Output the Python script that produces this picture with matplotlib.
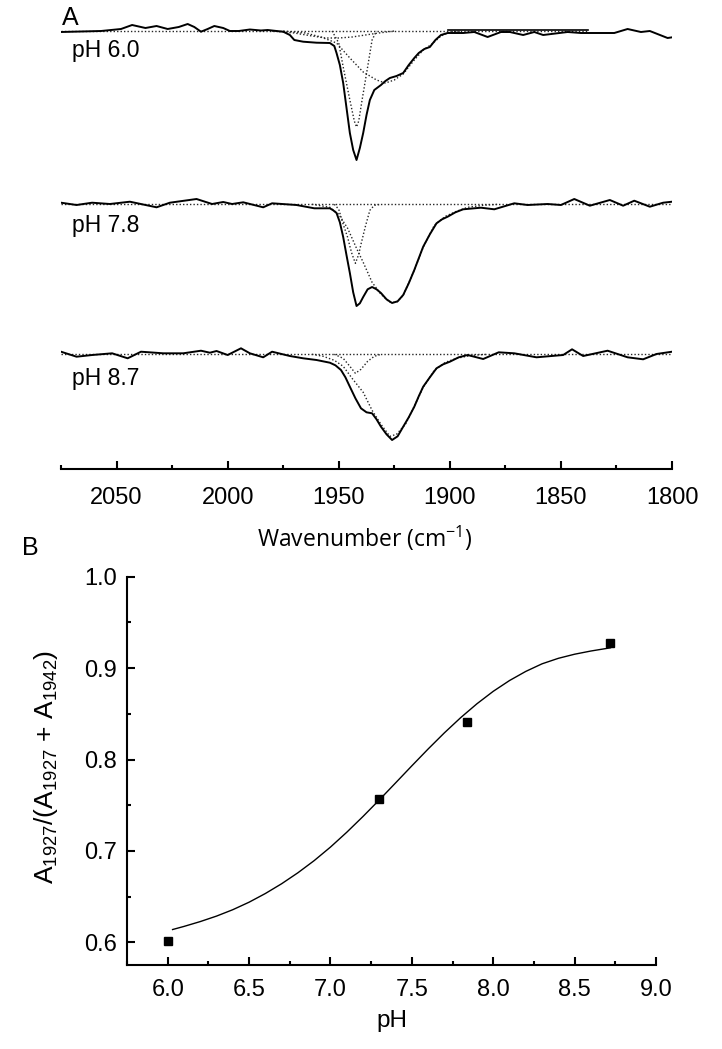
import numpy as np
import matplotlib
matplotlib.use('Agg')
import matplotlib.pyplot as plt
from matplotlib.ticker import MultipleLocator
from matplotlib import font_manager

plt.rcParams['font.family'] = ['Liberation Sans', 'DejaVu Sans']
plt.rcParams['mathtext.default'] = 'regular'

names = {f.name for f in font_manager.fontManager.ttflist}
narrow = 'Liberation Sans Narrow' if 'Liberation Sans Narrow' in names else 'Liberation Sans'

# ---- panel A : FTIR spectra (signal in a.u., relative to each baseline) ----
wn_60 = [2075, 2066, 2057, 2048, 2043, 2037, 2032, 2027, 2022, 2018, 2015, 2012, 2009, 2006,
         2002, 1999, 1995, 1990, 1985, 1982, 1978, 1975, 1972, 1970, 1966, 1960, 1954, 1952,
         1951, 1949.5, 1948, 1946.5, 1945, 1943.5, 1942, 1940.5, 1939, 1937.5, 1936, 1934, 1931,
         1929, 1927, 1924, 1921, 1918.5, 1916, 1914, 1911.5, 1909, 1906.5, 1904, 1901, 1894,
         1889, 1883, 1877, 1873, 1867, 1862, 1858, 1847, 1841, 1826, 1820, 1814, 1810, 1802, 1799]
sig_60 = [-0.01, -0.005, 0, 0.02, 0.06, 0.03, 0.05, 0.02, 0.04, 0.07, 0.04, -0.007, 0.02, 0.05,
          0.03, 0, 0, 0.015, 0.005, 0.01, 0, -0.007, -0.04, -0.09, -0.107, -0.117, -0.12, -0.15,
          -0.22, -0.34, -0.52, -0.77, -1.02, -1.19, -1.29, -1.17, -1.02, -0.84, -0.69, -0.59, -0.54,
          -0.50, -0.47, -0.45, -0.42, -0.34, -0.27, -0.22, -0.18, -0.16, -0.09, -0.04, -0.02, -0.02,
          -0.01, -0.06, -0.01, -0.01, -0.04, -0.01, -0.04, -0.01, -0.02, -0.02, 0.02, -0.01, 0, -0.07, -0.06]
# fitted components pH 6.0
c60a_wn = [1953, 1950, 1948, 1945, 1943, 1942, 1941, 1939.5, 1937, 1935, 1933]
c60a = [0, -0.12, -0.36, -0.69, -0.90, -0.96, -0.90, -0.69, -0.36, -0.09, 0]
c60b_wn = [1975, 1965, 1958, 1951, 1945, 1939, 1933, 1929, 1925, 1921, 1916, 1912, 1908, 1904, 1900, 1895]
c60b = [0, -0.02, -0.06, -0.12, -0.27, -0.41, -0.49, -0.52, -0.49, -0.43, -0.29, -0.19, -0.13, -0.05, -0.01, 0]
c60c_wn = [1980, 1970, 1962, 1956, 1950, 1944, 1938, 1932, 1925]
c60c = [0, -0.02, -0.05, -0.07, -0.07, -0.06, -0.04, -0.02, 0]

wn_78 = [2075, 2068, 2061, 2053, 2044, 2032, 2026, 2014, 2007, 2002, 1998, 1993, 1984, 1980,
         1969, 1961, 1954, 1952.5, 1951, 1949.5, 1948, 1946.5, 1945, 1943.5, 1942, 1940.5, 1939,
         1937, 1935, 1933, 1931, 1928.5, 1926, 1923.5, 1921, 1918.5, 1916, 1914, 1912, 1909,
         1906, 1903.5, 1901, 1897.5, 1894, 1886, 1880, 1871, 1865, 1856, 1850, 1844, 1837, 1828,
         1822, 1817, 1810, 1804, 1800]
sig_78 = [0.016, -0.007, 0.016, 0.003, 0.026, -0.03, 0.016, 0.053, 0.003, 0.023, 0.003, 0.02, -0.03, 0.01,
          -0.007, -0.04, -0.04, -0.06, -0.087, -0.18, -0.327, -0.51, -0.687, -0.88, -1.017, -0.99, -0.927,
          -0.85, -0.827, -0.85, -0.887, -0.95, -0.987, -0.97, -0.907, -0.79, -0.657, -0.54, -0.424, -0.30,
          -0.19, -0.15, -0.124, -0.08, -0.05, -0.034, -0.05, 0.01, -0.007, 0.003, -0.007, 0.053, -0.014, 0.043,
          -0.014, 0.036, -0.024, 0.016, 0.026]
c78a_wn = [1952, 1950, 1948, 1946, 1945, 1944, 1942.5, 1941, 1940, 1938, 1936, 1934, 1931]
c78a = [0, -0.05, -0.20, -0.33, -0.42, -0.50, -0.59, -0.50, -0.40, -0.22, -0.06, -0.01, 0]
c78b_wn = [1962, 1954, 1950, 1946, 1942, 1939, 1935, 1931, 1927, 1924, 1921, 1916, 1912, 1907,
           1902, 1897, 1892, 1885, 1878]
c78b = [0, -0.03, -0.10, -0.24, -0.44, -0.58, -0.78, -0.90, -0.98, -0.98, -0.91, -0.66, -0.43, -0.21,
        -0.12, -0.07, -0.03, -0.01, 0]

wn_87 = [2075, 2068, 2061, 2052, 2045, 2039, 2029, 2020, 2012, 2008, 2005, 2000, 1994, 1990,
         1984, 1980, 1972, 1966, 1960, 1954, 1951.5, 1949, 1947, 1945, 1942.5, 1940, 1937.5, 1935,
         1933, 1931, 1928.5, 1926, 1923.5, 1921, 1918.5, 1916, 1914, 1912, 1909, 1906, 1903, 1900,
         1896, 1892, 1885, 1878, 1871, 1861, 1849, 1845, 1840, 1829, 1820, 1813, 1807, 1800]
sig_87 = [0.026, -0.024, -0.007, 0.01, -0.04, 0.026, 0.01, 0.01, 0.036, 0.016, 0.033, -0.007, 0.06, 0.01,
          -0.03, 0.026, -0.017, -0.04, -0.057, -0.084, -0.11, -0.157, -0.23, -0.324, -0.44, -0.54, -0.58, -0.59,
          -0.65, -0.724, -0.80, -0.857, -0.82, -0.724, -0.63, -0.524, -0.42, -0.324, -0.23, -0.14, -0.10, -0.074,
          -0.03, -0.007, -0.047, 0.02, 0.01, -0.03, -0.007, 0.05, -0.017, 0.036, -0.03, -0.05, 0.003, 0.026]
c87a_wn = [1952, 1948, 1945, 1942.5, 1940, 1937, 1934, 1931]
c87a = [0, -0.04, -0.12, -0.19, -0.15, -0.07, -0.02, 0]
c87b_wn = [1962, 1957, 1952, 1948, 1944, 1939, 1935, 1931, 1927, 1924, 1920, 1916, 1912, 1907,
           1902, 1897, 1890, 1883]
c87b = [0, -0.02, -0.06, -0.12, -0.24, -0.38, -0.56, -0.70, -0.82, -0.80, -0.70, -0.52, -0.33, -0.16,
        -0.08, -0.04, -0.01, 0]

labels_A = ['pH 6.0', 'pH 7.8', 'pH 8.7']
offsets = [-0.31, -2.043, -3.543]

# ---- panel B : band ratio vs pH ----
ph_pts = [6.0, 7.30, 7.84, 8.72]
ratio_pts = [0.601, 0.7565, 0.8405, 0.927]
ph_fit = [6.03, 6.1, 6.2, 6.3, 6.4, 6.5, 6.6, 6.7, 6.8, 6.9, 7.0, 7.1, 7.2, 7.3, 7.4, 7.5,
          7.6, 7.7, 7.8, 7.9, 8.0, 8.1, 8.2, 8.3, 8.4, 8.5, 8.6, 8.72]
ratio_fit = [0.614, 0.6174, 0.6227, 0.6287, 0.6357, 0.6439, 0.6534, 0.6641, 0.6761, 0.6894,
             0.7042, 0.7204, 0.7377, 0.7558, 0.7744, 0.7931, 0.8115, 0.8292, 0.8458, 0.8610,
             0.8746, 0.8864, 0.8964, 0.9047, 0.9107, 0.9152, 0.9187, 0.9222]

fig = plt.figure(figsize=(7.22, 10.49), dpi=100)

axA = fig.add_axes([0.0845, 0.5529, 0.8463, 0.4471])
dot = dict(color='0.15', lw=1.0, ls=(0, (1, 1.5)))
solid = dict(color='k', lw=1.4)

# baselines
axA.plot([2075, 1838], [offsets[0], offsets[0]], **dot)
axA.plot([1901, 1838], [offsets[0] + 0.01, offsets[0] + 0.01], color='k', lw=1.2)
axA.plot([2075, 1800], [offsets[1], offsets[1]], **dot)
axA.plot([2075, 1800], [offsets[2], offsets[2]], **dot)

comps = [[(c60a_wn, c60a), (c60b_wn, c60b), (c60c_wn, c60c)],
         [(c78a_wn, c78a), (c78b_wn, c78b)],
         [(c87a_wn, c87a), (c87b_wn, c87b)]]
traces = [(wn_60, sig_60), (wn_78, sig_78), (wn_87, sig_87)]
for off, (w, s), cl in zip(offsets, traces, comps):
    for cw, cs in cl:
        axA.plot(cw, np.array(cs) + off, **dot)
    axA.plot(w, np.array(s) + off, **solid)

axA.set_xlim(2075, 1800)
axA.set_ylim(-4.69, 0)
for sp in ['left', 'right', 'top']:
    axA.spines[sp].set_visible(False)
axA.spines['bottom'].set_linewidth(1.5)
axA.set_yticks([])
axA.xaxis.set_major_locator(MultipleLocator(50))
axA.xaxis.set_minor_locator(MultipleLocator(25))
axA.tick_params(axis='x', which='major', direction='in', length=6, width=1.5, pad=13)
axA.tick_params(axis='x', which='minor', direction='in', length=3, width=1.5)
for t in axA.get_xticklabels():
    t.set_fontfamily(narrow)
    t.set_fontsize(17)

for lab, yy in zip(labels_A, [51, 225, 378]):
    fig.text(72 / 722, 1 - yy / 1049, lab, fontsize=16.5, ha='left', va='center')
fig.text(62 / 722, 1 - 18 / 1049, 'A', fontsize=18, ha='left', va='center')
fig.text(365 / 722, 1 - 538 / 1049, 'Wavenumber (cm$^{-1}$)', fontsize=16.5,
         family=['Open Sans', 'DejaVu Sans'], ha='center', va='center')

# panel B
axB = fig.add_axes([127 / 722, 1 - 965 / 1049, 529 / 722, 388.3 / 1049])
axB.plot(ph_fit, ratio_fit, color='k', lw=1.0)
axB.plot(ph_pts, ratio_pts, 'ks', ms=6)
axB.set_xlim(5.75, 9.0)
axB.set_ylim(0.5752, 1.0)
axB.xaxis.set_major_locator(MultipleLocator(0.5))
axB.xaxis.set_minor_locator(MultipleLocator(0.25))
axB.yaxis.set_major_locator(MultipleLocator(0.1))
axB.yaxis.set_minor_locator(MultipleLocator(0.05))
axB.xaxis.set_major_formatter(plt.FuncFormatter(lambda v, p: '%.1f' % v))
axB.yaxis.set_major_formatter(plt.FuncFormatter(lambda v, p: '%.1f' % v))
for sp in ['right', 'top']:
    axB.spines[sp].set_visible(False)
for sp in ['left', 'bottom']:
    axB.spines[sp].set_linewidth(1.5)
axB.tick_params(which='major', direction='in', length=6, width=1.5, labelsize=17)
axB.tick_params(which='minor', direction='in', length=3, width=1.5)
axB.tick_params(axis='x', pad=10)
axB.tick_params(axis='y', pad=7)

fig.text(30 / 722, 1 - 548 / 1049, 'B', fontsize=18, ha='center', va='center')
fig.text(392 / 722, 1 - 1021 / 1049, 'pH', fontsize=17.5, ha='center', va='center')
fig.text(46 / 722, 1 - 767 / 1049, 'A$_{1927}$/(A$_{1927}$ + A$_{1942}$)', fontsize=19,
         rotation=90, ha='center', va='center')

fig.savefig('out.png', dpi=100)
